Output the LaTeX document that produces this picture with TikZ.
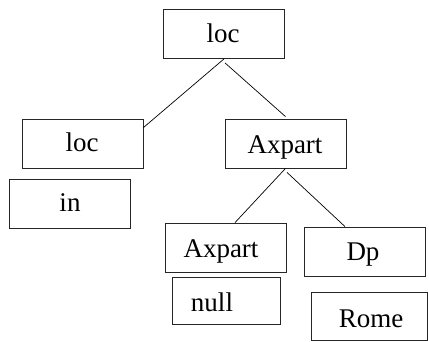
\documentclass[tikz,border=0pt]{standalone}
\usepackage{fontspec}
\setmainfont{Liberation Serif}
\begin{document}
\begin{tikzpicture}[x=1pt,y=-1pt,
  box/.style={draw=black!85,line width=0.8pt,minimum width=121pt,minimum height=49pt,inner sep=0pt},
  nullbox/.style={box,minimum width=108pt,minimum height=47pt},
  txt/.style={anchor=base,inner sep=0pt,font=\fontsize{27}{32}\selectfont},
  conn/.style={line width=0.7pt}]
\useasboundingbox (0,0) rectangle (429,342);
\node[box] (top) at (223.5,34) {};
\node[box] (lloc) at (82.5,143.5) {};
\node[box] (ax) at (285.5,143.5) {};
\node[box] (in) at (69.5,203.5) {};
\node[box] (ax2) at (225.5,247.5) {};
\node[box] (dp) at (364.5,251.5) {};
\node[nullbox] (null) at (226,300.5) {};
\node[box,minimum width=116pt,minimum height=48.5pt] (rome) at (369.5,316.5) {};
\node[txt] (ttop) at (223,43) {loc};
\node[txt] (tlloc) at (82,152) {loc};
\node[txt] (tax) at (285,154) {Axpart};
\node[txt] (tin) at (70,212) {in};
\node[txt] (tax2) at (221,258) {Axpart};
\node[txt] (tnull) at (212,312) {null};
\node[txt] (tdp) at (363,261) {Dp};
\node[txt] (trome) at (371,327) {Rome};
\draw[conn] ([xshift=0.5pt]top.south) -- ([yshift=-9pt]lloc.north east);
\draw[conn] ([xshift=1.5pt,yshift=-4pt]top.south) -- ([yshift=2pt]ax.north);
\draw[conn] (ax.south) -- ([xshift=9.5pt]ax2.north);
\draw[conn] ([xshift=1.5pt,yshift=-4pt]ax.south) -- ([xshift=-19.5pt]dp.north);
\end{tikzpicture}
\end{document}
